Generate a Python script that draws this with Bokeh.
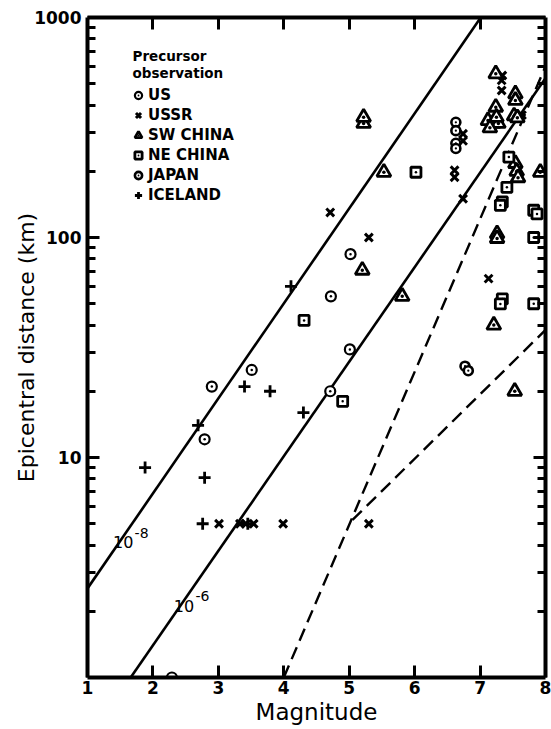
from bokeh.plotting import figure
from bokeh.models import (FixedTicker, LinearAxis, LogAxis, Label, Legend, LegendItem,
                          PrintfTickFormatter, Range1d)
from bokeh.embed import file_html
from bokeh.resources import INLINE

# ---------------- data ----------------
us_mag = [2.29, 2.79, 2.90, 3.51, 4.71, 5.01, 4.72, 5.02]
us_dist = [1.0, 12.1, 21, 25, 20, 31, 54, 84]

ussr_mag = [3.01, 3.33, 3.42, 3.54, 3.99, 5.30, 4.71, 5.30, 6.61, 6.61, 6.74, 6.74, 6.74,
            7.34, 7.33, 7.33, 7.13, 7.64]
ussr_dist = [5, 5, 5, 5, 5, 5, 130, 100, 202, 188, 296, 275, 150,
             545, 518, 466, 65, 360]

swchina_mag = [5.22, 5.22, 5.53, 5.20, 5.81, 7.24, 7.54, 7.54, 7.24, 7.12, 7.20, 7.28, 7.15,
               7.25, 7.52, 7.57, 7.54, 7.56, 7.58, 7.92, 7.26, 7.26, 7.21, 7.53]
swchina_dist = [330, 352, 198, 71, 54, 555, 450, 420, 391, 340, 330, 330, 315,
                352, 357, 350, 217, 200, 187, 198, 104, 99, 40, 20]

nechina_mag = [6.02, 4.31, 4.90, 7.44, 7.41, 7.34, 7.31, 7.82, 7.87, 7.82, 7.34, 7.31, 7.82]
nechina_dist = [198, 42, 18, 232, 169, 145, 140, 133, 128, 100, 52.6, 49.9, 50]

japan_mag = [6.63, 6.63, 6.63, 6.63, 6.77, 6.82]
japan_dist = [334, 306, 268, 254, 26, 24.8]

iceland_mag = [1.88, 2.79, 2.69, 3.40, 3.79, 2.76, 3.45, 4.11, 4.30]
iceland_dist = [9.0, 8.1, 14, 21, 20, 5, 5, 60, 16]

# strain-radius lines (end points)
strain8_mag = [1.0, 7.01]
strain8_dist = [2.54, 1000]
strain6_mag = [1.66, 8.0]
strain6_dist = [1.0, 530]

# dashed lines (end points)
dashA_mag = [4.0, 8.0]
dashA_dist = [1.0, 600]
dashB_mag = [5.05, 8.0]
dashB_dist = [5.2, 38]

x_ticks = [1, 2, 3, 4, 5, 6, 7, 8]
y_ticks = [10, 100, 1000]
y_minor = [k * d for d in (1, 10, 100) for k in range(2, 10)]

FONT = "DejaVu Sans"

p = figure(width=551, height=729, x_range=Range1d(1, 8), y_range=Range1d(1, 1000),
           y_axis_type="log", output_backend="svg", toolbar_location=None,
           min_border_left=87, min_border_right=6, min_border_top=17, min_border_bottom=52)
p.grid.visible = False
p.outline_line_color = None
p.background_fill_color = "white"


def style(ax, show_labels):
    ax.axis_line_width = 4
    ax.axis_line_color = "black"
    ax.major_tick_in = 12
    ax.major_tick_out = 0
    ax.minor_tick_in = 8
    ax.minor_tick_out = 0
    ax.major_tick_line_width = 3
    ax.minor_tick_line_width = 3
    ax.major_tick_line_color = "black"
    ax.minor_tick_line_color = "black"
    if show_labels:
        ax.major_label_text_font = FONT
        ax.major_label_text_font_style = "bold"
        ax.major_label_text_font_size = "17px"
        ax.major_label_text_color = "black"
    else:
        ax.major_label_text_font_size = "1px"
        ax.major_label_text_alpha = 0
        ax.major_label_standoff = 0


xb = p.xaxis[0]
xb.ticker = FixedTicker(ticks=x_ticks, minor_ticks=[])
xb.formatter = PrintfTickFormatter(format="%d")
style(xb, True)
xb.major_label_standoff = 3
xb.axis_label = "Magnitude"
xb.axis_label_text_font = FONT
xb.axis_label_text_font_style = "normal"
xb.axis_label_text_font_size = "23px"
xb.axis_label_standoff = 2
xb.axis_label_text_color = "black"

yl = p.yaxis[0]
yl.ticker = FixedTicker(ticks=y_ticks, minor_ticks=y_minor)
yl.formatter = PrintfTickFormatter(format="%d")
style(yl, True)
yl.major_label_standoff = 6
yl.axis_label = "Epicentral distance (km)"
yl.axis_label_text_font = FONT
yl.axis_label_text_font_style = "normal"
yl.axis_label_text_font_size = "22px"
yl.axis_label_standoff = -8
yl.axis_label_text_color = "black"

xt = LinearAxis(ticker=FixedTicker(ticks=x_ticks[1:-1], minor_ticks=[]))
style(xt, False)
p.add_layout(xt, "above")

yr = LogAxis(ticker=FixedTicker(ticks=y_ticks, minor_ticks=y_minor))
style(yr, False)
p.add_layout(yr, "right")

# lines
p.line(strain8_mag, strain8_dist, line_color="black", line_width=2.6)
p.line(strain6_mag, strain6_dist, line_color="black", line_width=2.6)
p.line(dashA_mag, dashA_dist, line_color="black", line_width=2.4, line_dash="13 7")
p.line(dashB_mag, dashB_dist, line_color="black", line_width=2.4, line_dash="13 7")

# markers
common = dict(line_color="black", fill_color="white")
r_us = p.scatter(us_mag, us_dist, marker="circle_dot", size=10, line_width=2.2, **common)
r_ussr = p.scatter(ussr_mag, ussr_dist, marker="x", size=11, line_width=3, line_color="black")
r_sw = p.scatter(swchina_mag, swchina_dist, marker="triangle_dot", size=14, line_width=2.8, **common)
r_ne = p.scatter(nechina_mag, nechina_dist, marker="square_dot", size=10, line_width=2.8, **common)
r_jp = p.scatter(japan_mag, japan_dist, marker="circle_dot", size=9, line_width=2.6, **common)
r_ic = p.scatter(iceland_mag, iceland_dist, marker="cross", size=12, line_width=2.8, line_color="black")

legend = Legend(items=[
    LegendItem(label="US", renderers=[r_us]),
    LegendItem(label="USSR", renderers=[r_ussr]),
    LegendItem(label="SW CHINA", renderers=[r_sw]),
    LegendItem(label="NE CHINA", renderers=[r_ne]),
    LegendItem(label="JAPAN", renderers=[r_jp]),
    LegendItem(label="ICELAND", renderers=[r_ic]),
], location=(42, 472), glyph_width=18, glyph_height=20, label_height=20, spacing=0,
    padding=0, margin=0, label_standoff=1, border_line_color=None, background_fill_alpha=0,
    label_text_font=FONT, label_text_font_style="bold", label_text_font_size="15px",
    label_text_color="black")
p.add_layout(legend)

for txt, yy in (("Precursor", 622), ("observation", 605)):
    p.add_layout(Label(x=45, y=yy, x_units="screen", y_units="screen", text=txt,
                       text_font=FONT, text_font_style="bold", text_font_size="13.5px",
                       text_baseline="middle", text_color="black"))

# strain labels
p.add_layout(Label(x=1.39, y=4.15, text="10", text_font=FONT, text_font_size="16px",
                   text_baseline="middle", text_color="black"))
p.add_layout(Label(x=1.72, y=4.55, text="-8", text_font=FONT, text_font_size="14px",
                   text_baseline="middle", text_color="black"))
p.add_layout(Label(x=2.32, y=2.12, text="10", text_font=FONT, text_font_size="16px",
                   text_baseline="middle", text_color="black"))
p.add_layout(Label(x=2.65, y=2.35, text="-6", text_font=FONT, text_font_size="14px",
                   text_baseline="middle", text_color="black"))

open("out.html", "w").write(file_html(p, INLINE))
